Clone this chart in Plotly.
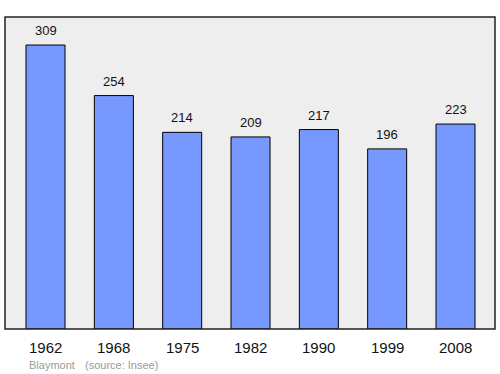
import plotly.graph_objects as go

years = ["1962", "1968", "1975", "1982", "1990", "1999", "2008"]
population = [309, 254, 214, 209, 217, 196, 223]

xpos = list(range(len(years)))

W, H = 500, 374
ml, mr, mt, mb = 5, 5, 17, 45
FONT = "Liberation Sans, Arial, sans-serif"

def px_x(p):
    return (p - ml) / (W - ml - mr)

def px_y(p):
    return (H - mb - p) / (H - mt - mb)

fig = go.Figure()
fig.add_trace(go.Bar(
    x=xpos, y=population, width=0.571,
    marker=dict(color="#7799ff", line=dict(color="#000000", width=1)),
    hoverinfo="skip",
))

annotations = []
for x, v in zip(xpos, population):
    annotations.append(dict(x=x, y=v, xref="x", yref="y", text=str(v), showarrow=False,
                            yanchor="bottom", yshift=5,
                            font=dict(family=FONT, size=13, color="#111111")))
for x, yr in zip(xpos, years):
    annotations.append(dict(x=x, y=0, xref="x", yref="paper", text=yr, showarrow=False,
                            yanchor="top", yshift=-8,
                            font=dict(family=FONT, size=15, color="#111111")))
annotations.append(dict(x=px_x(52), y=px_y(365), xref="paper", yref="paper", text="Blaymont",
                        showarrow=False, xanchor="center", yanchor="middle",
                        font=dict(family=FONT, size=11, color="#999999")))
annotations.append(dict(x=px_x(121), y=px_y(365), xref="paper", yref="paper", text="(source: Insee)",
                        showarrow=False, xanchor="center", yanchor="middle",
                        font=dict(family=FONT, size=11, color="#999999")))

fig.update_layout(
    width=W, height=H,
    margin=dict(l=ml, r=mr, t=mt, b=mb),
    paper_bgcolor="#ffffff",
    plot_bgcolor="#eeeeee",
    showlegend=False,
    xaxis=dict(range=[-0.593, 6.578], showticklabels=False, showgrid=False, zeroline=False, ticks=""),
    yaxis=dict(range=[0, 339.5], showticklabels=False, showgrid=False, zeroline=False, ticks=""),
    annotations=annotations,
    shapes=[dict(type="rect", xref="paper", yref="paper", x0=0, y0=0, x1=1, y1=1,
                 line=dict(color="#222222", width=1.5), layer="above")],
)

fig.write_html("out.html")
